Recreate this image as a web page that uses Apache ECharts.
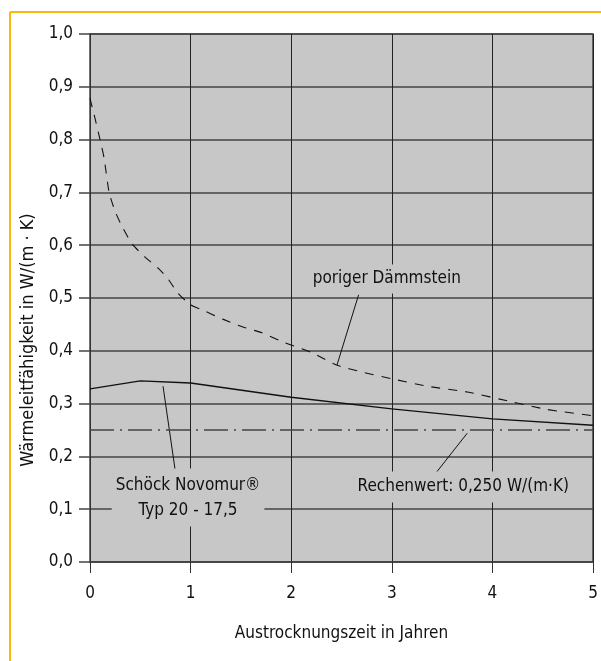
<!DOCTYPE html>
<html><head><meta charset="utf-8">
<script src="https://cdn.jsdelivr.net/npm/echarts@6/dist/echarts.min.js"></script>
<style>html,body{margin:0;padding:0;background:#fff}#c{width:601px;height:661px}</style>
</head><body><div id="c"></div>
<script>
const FONT = '"DejaVu Sans Condensed","Liberation Sans Narrow",sans-serif';
const xTicks = [0,1,2,3,4,5];
const yTicks = [0,0.1,0.2,0.3,0.4,0.5,0.6,0.7,0.8,0.9,1.0];
const xTitle = 'Austrocknungszeit in Jahren';
const yTitle = 'Wärmeleitfähigkeit in W/(m · K)';
const poriger = [[0,0.878],[0.05,0.84],[0.1,0.80],[0.14,0.765],[0.19,0.70],[0.25,0.664],[0.32,0.635],[0.42,0.602],[0.55,0.577],[0.68,0.556],[0.78,0.535],[0.87,0.51],[1.0,0.487],[1.12,0.477],[1.32,0.46],[1.52,0.445],[1.71,0.434],[1.9,0.418],[2.2,0.397],[2.45,0.373],[2.7,0.36],[3.0,0.347],[3.35,0.333],[3.75,0.322],[4.2,0.303],[4.54,0.289],[5.0,0.277]];
const schoeck = [[0,0.328],[0.5,0.343],[1,0.339],[2,0.312],[3,0.29],[4,0.271],[5,0.259]];
const rechenwert = [[0,0.25],[5,0.25]];
const labelPoriger = {text:'poriger Dämmstein', pos:[2.95,0.536], leader:[[2.67,0.506],[2.455,0.373]]};
const labelSchoeck = {text:'Schöck Novomur®\nTyp 20 - 17,5', pos:[0.975,0.122], leader:[[0.726,0.333],[0.845,0.176]]};
const labelRechen = {text:'Rechenwert: 0,250 W/(m·K)', pos:[3.71,0.142], leader:[[3.75,0.244],[3.44,0.169]]};

const chart = echarts.init(document.getElementById('c'));
const BG = '#c6c7c6';
const TXT = '#111';
function leaderSeries(l){
  return {type:'line', data:l.leader, symbol:'none', silent:true, z:4, lineStyle:{color:'#111', width:1}};
}
const frame = [
  {type:'line', shape:{x1:10,y1:12,x2:601,y2:12}, style:{stroke:'#FDB515', lineWidth:2}},
  {type:'line', shape:{x1:10,y1:12,x2:10,y2:661}, style:{stroke:'#FDB515', lineWidth:2}}
];
chart.setOption({
  animation:false,
  backgroundColor:'#fff',
  graphic:frame,
  grid:{left:90, top:34, right:8, bottom:99, show:true, backgroundColor:BG, borderColor:'#444', borderWidth:1.5},
  xAxis:{type:'value', min:0, max:5, interval:1,
    name:xTitle, nameLocation:'middle', nameGap:63, nameTextStyle:{fontFamily:FONT, fontSize:17, color:TXT},
    axisLine:{show:true, onZero:false, lineStyle:{color:'#444', width:1.5}},
    axisTick:{show:true, length:11, lineStyle:{color:'#333', width:1}},
    axisLabel:{margin:23, fontFamily:FONT, fontSize:17, color:TXT, formatter:v=>String(v)},
    splitLine:{show:true, lineStyle:{color:'#222', width:1}}},
  yAxis:{type:'value', min:0, max:1, interval:0.1,
    name:yTitle, nameLocation:'middle', nameGap:47, nameTextStyle:{fontFamily:FONT, fontSize:18, color:TXT, padding:[0,84,0,0]},
    axisLine:{show:true, onZero:false, lineStyle:{color:'#333', width:1}},
    axisTick:{show:true, length:11, lineStyle:{color:'#444', width:1.5}},
    axisLabel:{margin:17, fontFamily:FONT, fontSize:17, color:TXT, formatter:v=>v.toFixed(1).replace('.',',')},
    splitLine:{show:true, lineStyle:{color:'#444', width:1.5}}},
  series:[
    {type:'line', data:poriger, symbol:'none', smooth:0.2, z:5, lineStyle:{color:'#111', width:1.1, type:[9,8]}},
    {type:'line', data:schoeck, symbol:'none', z:5, lineStyle:{color:'#111', width:1.3}},
    {type:'line', data:rechenwert, symbol:'none', z:5, lineStyle:{color:'#444', width:1.3, type:[24,6,2,6]}},
    leaderSeries(labelPoriger), leaderSeries(labelSchoeck), leaderSeries(labelRechen)
  ]
});
function labelGraphic(l, pad){
  const p = chart.convertToPixel({gridIndex:0}, l.pos);
  return {type:'text', x:p[0], y:p[1], z:10, silent:true,
    style:{text:l.text, fill:TXT, font:'17px ' + FONT, lineHeight:25, align:'center', verticalAlign:'middle',
      backgroundColor:BG, padding:pad}};
}
chart.setOption({graphic: frame.concat([
  labelGraphic(labelPoriger,[2,4]),
  labelGraphic(labelSchoeck,[4,4]),
  labelGraphic(labelRechen,[3,4])
])});
</script></body></html>
